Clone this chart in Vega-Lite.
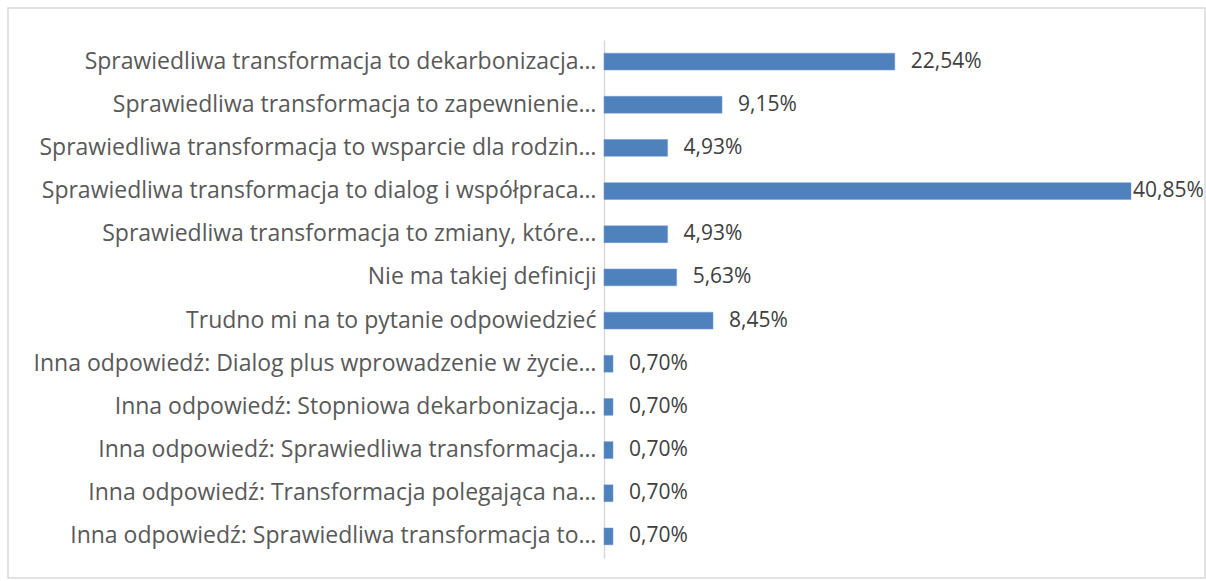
{
  "$schema": "https://vega.github.io/schema/vega-lite/v6.json",
  "width": 1197,
  "height": 570,
  "autosize": {"type": "none"},
  "padding": {"left": 8, "top": 8, "right": 1, "bottom": 3},
  "background": "white",
  "config": {
    "view": {"stroke": "#d9d9d9", "strokeWidth": 1.5},
    "locale": {"number": {"decimal": ",", "thousands": " ", "grouping": [3], "currency": ["", " zł"]}},
    "font": "Open Sans"
  },
  "data": {
    "values": [
      {"label": "Sprawiedliwa transformacja to dekarbonizacja…", "value": 0.2254},
      {"label": "Sprawiedliwa transformacja to zapewnienie…", "value": 0.0915},
      {"label": "Sprawiedliwa transformacja to wsparcie dla rodzin…", "value": 0.0493},
      {"label": "Sprawiedliwa transformacja to dialog i współpraca…", "value": 0.4085},
      {"label": "Sprawiedliwa transformacja  to zmiany, które…", "value": 0.0493},
      {"label": "Nie ma takiej definicji ", "value": 0.0563},
      {"label": "Trudno mi na to pytanie odpowiedzieć ", "value": 0.0845},
      {"label": "Inna odpowiedź: Dialog plus wprowadzenie w życie…", "value": 0.007},
      {"label": "Inna odpowiedź: Stopniowa dekarbonizacja…", "value": 0.007},
      {"label": "Inna odpowiedź: Sprawiedliwa transformacja…", "value": 0.007},
      {"label": "Inna odpowiedź: Transformacja polegająca na…", "value": 0.007},
      {"label": "Inna odpowiedź: Sprawiedliwa transformacja to…", "value": 0.007}
    ]
  },
  "encoding": {
    "y": {
      "field": "label",
      "type": "nominal",
      "sort": null,
      "scale": {"range": [32, 550], "paddingInner": 0.61, "paddingOuter": 0.305},
      "axis": {
        "title": null,
        "offset": -596,
        "ticks": false,
        "domainColor": "#d9d9d9",
        "domainWidth": 1.5,
        "labelFont": "Open Sans",
        "labelFontSize": 23,
        "labelColor": "#595959",
        "labelPadding": 8,
        "labelLimit": 700
      }
    },
    "x": {
      "field": "value",
      "type": "quantitative",
      "scale": {"domain": [0, 0.4085], "range": [596, 1123], "nice": false, "zero": true},
      "axis": null
    }
  },
  "layer": [
    {"mark": {"type": "bar", "color": "#4F81BD", "stroke": "#6f9ad0", "strokeWidth": 0.5}},
    {
      "transform": [{"filter": "datum.value < 0.4"}],
      "mark": {"type": "text", "align": "left", "baseline": "middle", "dx": 16, "font": "Open Sans", "fontSize": 21, "color": "#404040"},
      "encoding": {"text": {"field": "value", "type": "quantitative", "format": ".2%"}}
    },
    {
      "transform": [{"filter": "datum.value >= 0.4"}],
      "mark": {"type": "text", "align": "left", "baseline": "middle", "dx": 2, "font": "Open Sans", "fontSize": 21, "color": "#404040"},
      "encoding": {"text": {"field": "value", "type": "quantitative", "format": ".2%"}}
    }
  ]
}
